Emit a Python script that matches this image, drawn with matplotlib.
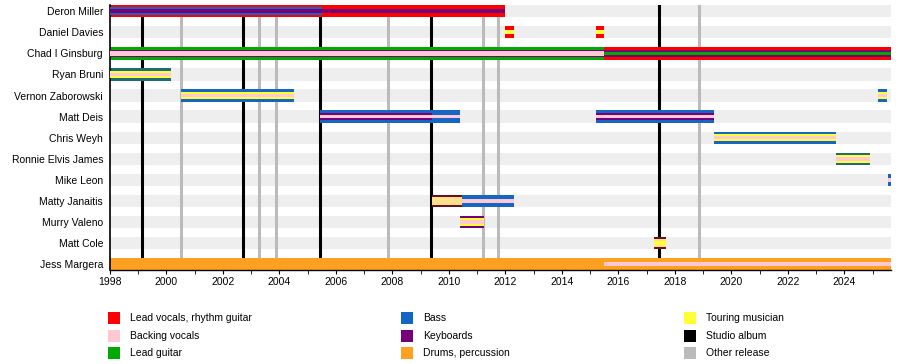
"""Band member timeline, drawn like a Wikipedia EasyTimeline chart."""

import matplotlib
matplotlib.use("Agg")
import matplotlib.pyplot as plt
from matplotlib.patches import Rectangle

plt.rcParams["font.family"] = ["Liberation Sans", "DejaVu Sans"]

# Role colours.
ROLE_COLORS = {
    "vocals": "#ff0000",
    "backing": "#ffc8d2",
    "guitar": "#00aa00",
    "bass": "#1566c4",
    "bass2": "#1b6d7c",
    "keys": "#760078",
    "drums": "#ffa020",
    "touring": "#ffff33",
    "touring2": "#ffe08a",
    "maroon": "#66102e",
}

MEMBERS = [
    "Deron Miller", "Daniel Davies", "Chad I Ginsburg", "Ryan Bruni",
    "Vernon Zaborowski", "Matt Deis", "Chris Weyh", "Ronnie Elvis James",
    "Mike Leon", "Matty Janaitis", "Murry Valeno", "Matt Cole", "Jess Margera",
]

# (member, start, end, role, layer) ; layer 0 = full bar, 1 = middle, 2 = thin
BARS = [
    ("Deron Miller", 1998.0, 2012.0, "vocals", 0),
    ("Deron Miller", 1998.0, 2005.5, "bass", 1),
    ("Deron Miller", 1998.0, 2012.0, "keys", 2),
    ("Daniel Davies", 2012.0, 2012.3, "vocals", 0),
    ("Daniel Davies", 2012.0, 2012.3, "touring", 2),
    ("Daniel Davies", 2015.2, 2015.5, "vocals", 0),
    ("Daniel Davies", 2015.2, 2015.5, "touring", 2),
    ("Chad I Ginsburg", 1998.0, 2015.5, "guitar", 0),
    ("Chad I Ginsburg", 1998.0, 2015.5, "keys", 1),
    ("Chad I Ginsburg", 1998.0, 2015.5, "backing", 3),
    ("Chad I Ginsburg", 2015.5, 2025.65, "vocals", 0),
    ("Chad I Ginsburg", 2015.5, 2025.65, "keys", 1),
    ("Chad I Ginsburg", 2015.5, 2025.65, "guitar", 2),
    ("Ryan Bruni", 1998.0, 2000.15, "bass2", 0),
    ("Ryan Bruni", 1998.0, 2000.15, "touring", 1),
    ("Ryan Bruni", 1998.0, 2000.15, "backing", 2),
    ("Vernon Zaborowski", 2000.5, 2004.5, "bass", 0),
    ("Vernon Zaborowski", 2000.5, 2004.5, "touring", 1),
    ("Vernon Zaborowski", 2000.5, 2004.5, "backing", 2),
    ("Vernon Zaborowski", 2025.2, 2025.5, "bass", 0),
    ("Vernon Zaborowski", 2025.2, 2025.5, "touring", 1),
    ("Vernon Zaborowski", 2025.2, 2025.5, "backing", 2),
    ("Matt Deis", 2005.45, 2010.4, "bass", 0),
    ("Matt Deis", 2005.45, 2009.4, "keys", 1),
    ("Matt Deis", 2005.45, 2010.4, "backing", 2),
    ("Matt Deis", 2015.2, 2019.4, "bass", 0),
    ("Matt Deis", 2015.2, 2019.4, "keys", 1),
    ("Matt Deis", 2015.2, 2019.4, "backing", 2),
    ("Chris Weyh", 2019.4, 2023.7, "bass", 0),
    ("Chris Weyh", 2019.4, 2023.7, "touring", 1),
    ("Chris Weyh", 2019.4, 2023.7, "backing", 2),
    ("Ronnie Elvis James", 2023.7, 2024.9, "bass2", 0),
    ("Ronnie Elvis James", 2023.7, 2024.9, "touring", 1),
    ("Ronnie Elvis James", 2023.7, 2024.9, "backing", 2),
    ("Mike Leon", 2025.55, 2025.65, "bass", 0),
    ("Mike Leon", 2025.55, 2025.65, "backing", 2),
    ("Matty Janaitis", 2009.4, 2010.45, "maroon", 0),
    ("Matty Janaitis", 2009.4, 2010.45, "touring2", 1),
    ("Matty Janaitis", 2010.45, 2012.3, "bass", 0),
    ("Matty Janaitis", 2010.45, 2012.3, "backing", 2),
    ("Murry Valeno", 2010.4, 2011.25, "keys", 0),
    ("Murry Valeno", 2010.4, 2011.25, "touring", 1),
    ("Murry Valeno", 2010.4, 2011.25, "backing", 2),
    ("Matt Cole", 2017.25, 2017.7, "maroon", 0),
    ("Matt Cole", 2017.25, 2017.7, "touring2", 1),
    ("Matt Cole", 2017.25, 2017.7, "touring", 2),
    ("Jess Margera", 1998.0, 2025.65, "drums", 0),
    ("Jess Margera", 2015.5, 2025.65, "backing", 2),
]

STUDIO_ALBUMS = [1999.15, 2002.7, 2005.45, 2009.35, 2017.42]
OTHER_RELEASES = [2000.5, 2003.27, 2003.87, 2007.83, 2011.19, 2011.72, 2018.84]

LEGEND = [
    ("Lead vocals, rhythm guitar", "vocals"), ("Backing vocals", "backing"),
    ("Lead guitar", "guitar"), ("Bass", "bass"), ("Keyboards", "keys"),
    ("Drums, percussion", "drums"), ("Touring musician", "touring"),
    ("Studio album", "black"), ("Other release", "grey"),
]

X_START, X_END = 1998.0, 2025.65
LAYER_HEIGHT = {0: 0.58, 1: 0.37, 2: 0.18, 3: 0.25}


def main():
    fig = plt.figure(figsize=(9, 3.64), dpi=100)
    ax = fig.add_axes([110 / 900, 1 - 270 / 364, 781 / 900, 265 / 364])

    # Grey row bands.
    for i, _ in enumerate(MEMBERS):
        h = LAYER_HEIGHT[0]
        ax.add_patch(Rectangle((X_START, i - h / 2), X_END - X_START, h,
                               color="#eeeeee", lw=0, zorder=0))

    for x in OTHER_RELEASES:
        ax.axvline(x, color="#bbbbbb", lw=2.2, zorder=1)
    for x in STUDIO_ALBUMS:
        ax.axvline(x, color="black", lw=2.2, zorder=1)

    for member, start, end, role, layer in BARS:
        i = MEMBERS.index(member)
        h = LAYER_HEIGHT[layer]
        ax.add_patch(Rectangle((start, i - h / 2), end - start, h,
                               color=ROLE_COLORS[role], lw=0,
                               zorder=2 + layer))

    ax.set_xlim(X_START, X_END)
    ax.set_ylim(len(MEMBERS) - 1 + 0.29, -0.3)
    ax.set_yticks(range(len(MEMBERS)))
    ax.set_yticklabels(MEMBERS, fontsize=7.5)
    ax.tick_params(axis="y", length=0, pad=5)
    ax.set_xticks(range(1998, 2026, 2))
    ax.set_xticks(range(1998, 2026), minor=True)
    ax.tick_params(axis="x", which="both", length=3, direction="out",
                   labelsize=7.5, pad=2)
    for side in ("top", "right"):
        ax.spines[side].set_visible(False)
    ax.spines["left"].set_linewidth(1.2)
    ax.spines["bottom"].set_linewidth(1.0)

    # Legend in three columns under the chart.
    col_x = [108, 401, 684]
    row_y = [318, 336, 353]
    extra = {"black": "black", "grey": "#bbbbbb"}
    for k, (label, role) in enumerate(LEGEND):
        col, row = divmod(k, 3)
        color = ROLE_COLORS.get(role, extra.get(role))
        x0 = col_x[col]
        y0 = row_y[row]
        fig.patches.append(Rectangle(
            (x0 / 900, 1 - (y0 + 6) / 364), 12 / 900, 12 / 364,
            transform=fig.transFigure, color=color, lw=0))
        fig.text((x0 + 22) / 900, 1 - y0 / 364, label, fontsize=7.5,
                 va="center", ha="left")

    fig.savefig("out.png", dpi=100)


if __name__ == "__main__":
    main()
